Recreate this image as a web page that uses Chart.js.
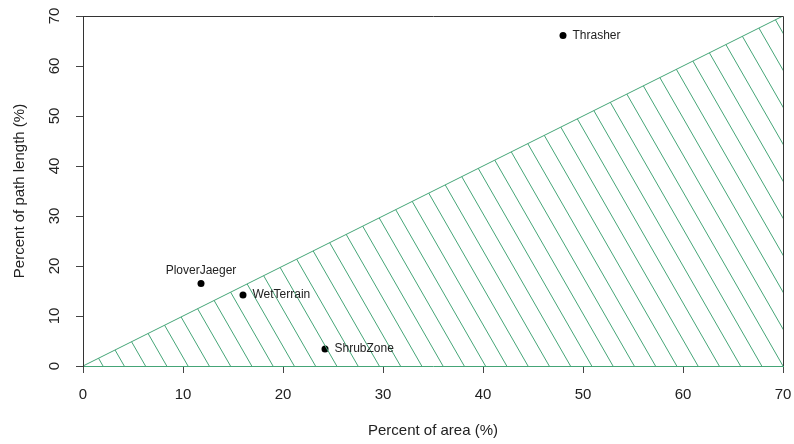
<!DOCTYPE html>
<html>
<head>
<meta charset="utf-8">
<script src="https://cdn.jsdelivr.net/npm/chart.js@4/dist/chart.umd.min.js"></script>
<style>
  html, body { margin: 0; padding: 0; background: #fff; }
  #wrap { width: 794px; height: 444px; }
</style>
</head>
<body>
<div id="wrap"><canvas id="chart" width="794" height="444"></canvas></div>
<script>
// site values (% of area vs % of path length)
const sites = ['PloverJaeger', 'WetTerrain', 'ShrubZone', 'Thrasher'];
const areaPct = [11.8, 16.0, 24.2, 48.0];
const pathPct = [16.5, 14.2, 3.4, 66.1];
// 1:1 reference line, shaded underneath
const refLine = [0, 70];
const axisTicks = [0, 10, 20, 30, 40, 50, 60, 70];

const FONT = "'Liberation Sans', Arial, sans-serif";
const GREEN = '#45a577';

// diagonal hatch (~60 deg) used as the fill under the 1:1 line
function hatchPattern() {
  const step = 21.25, w = 85, h = 37, x0 = 20.3;
  const c = document.createElement('canvas');
  c.width = w; c.height = h;
  const g = c.getContext('2d');
  g.strokeStyle = GREEN;
  g.lineWidth = 1;
  for (let k = -5; k <= 5; k++) {
    const x = x0 + k * step;
    g.beginPath();
    g.moveTo(x, 0);
    g.lineTo(x + step, h);
    g.stroke();
  }
  return g.createPattern(c, 'repeat');
}

// point labels + plot frame
const siteLabels = {
  id: 'siteLabels',
  afterDatasetsDraw(chart) {
    const ctx = chart.ctx;
    const meta = chart.getDatasetMeta(1);
    ctx.save();
    ctx.font = '12px ' + FONT;
    ctx.fillStyle = '#222';
    ctx.textBaseline = 'middle';
    meta.data.forEach((pt, i) => {
      if (sites[i] === 'PloverJaeger') {
        ctx.textAlign = 'center';
        ctx.fillText(sites[i], pt.x, pt.y - 13);
      } else {
        ctx.textAlign = 'left';
        ctx.fillText(sites[i], pt.x + 9.5, pt.y);
      }
    });
    const a = chart.chartArea;
    ctx.strokeStyle = '#333';
    ctx.lineWidth = 1;
    ctx.beginPath();
    ctx.moveTo(Math.round(a.left) + 0.5, Math.round(a.bottom));
    ctx.lineTo(Math.round(a.left) + 0.5, Math.round(a.top) + 0.5);
    ctx.lineTo(Math.round(a.right) + 0.5, Math.round(a.top) + 0.5);
    ctx.lineTo(Math.round(a.right) + 0.5, Math.round(a.bottom));
    ctx.stroke();
    ctx.restore();
  }
};

const tickOpts = {
  color: '#222',
  font: { family: FONT, size: 15 },
  autoSkip: false
};

new Chart(document.getElementById('chart'), {
  data: {
    datasets: [{
      type: 'line',
      data: refLine.map(v => ({ x: v, y: v })),
      borderColor: GREEN,
      borderWidth: 1,
      backgroundColor: hatchPattern(),
      fill: 'origin',
      pointRadius: 0,
      tension: 0
    }, {
      type: 'scatter',
      data: areaPct.map((x, i) => ({ x: x, y: pathPct[i] })),
      backgroundColor: '#000',
      borderColor: '#000',
      pointRadius: 3.5,
      borderWidth: 0
    }]
  },
  options: {
    responsive: false,
    animation: false,
    layout: { padding: { top: 16, right: 11, left: 0, bottom: 0 } },
    plugins: { legend: { display: false }, tooltip: { enabled: false } },
    scales: {
      x: {
        type: 'linear',
        min: 0, max: 70,
        afterBuildTicks: s => { s.ticks = axisTicks.map(v => ({ value: v })); },
        afterFit: s => { s.height = 78; s.paddingLeft = 0; s.paddingRight = 0; },
        grid: { drawOnChartArea: false, tickLength: 7, color: '#444' },
        border: { color: GREEN, width: 1 },
        ticks: Object.assign({ padding: 13, maxRotation: 0 }, tickOpts),
        title: {
          display: true,
          text: 'Percent of area (%)',
          color: '#222',
          font: { family: FONT, size: 15 },
          padding: { top: 0, bottom: 4 }
        }
      },
      y: {
        type: 'linear',
        min: 0, max: 70,
        afterBuildTicks: s => { s.ticks = axisTicks.map(v => ({ value: v })); },
        afterFit: s => { s.width = 83; s.paddingTop = 0; s.paddingBottom = 0; },
        grid: { drawOnChartArea: false, tickLength: 7, color: '#444' },
        border: { color: '#333', width: 1 },
        ticks: Object.assign({ padding: 13, minRotation: 90, maxRotation: 90, crossAlign: 'center' }, tickOpts),
        title: {
          display: true,
          text: 'Percent of path length (%)',
          color: '#222',
          font: { family: FONT, size: 15 },
          padding: { top: 11, bottom: 0 }
        }
      }
    }
  },
  plugins: [siteLabels]
});
</script>
</body>
</html>
